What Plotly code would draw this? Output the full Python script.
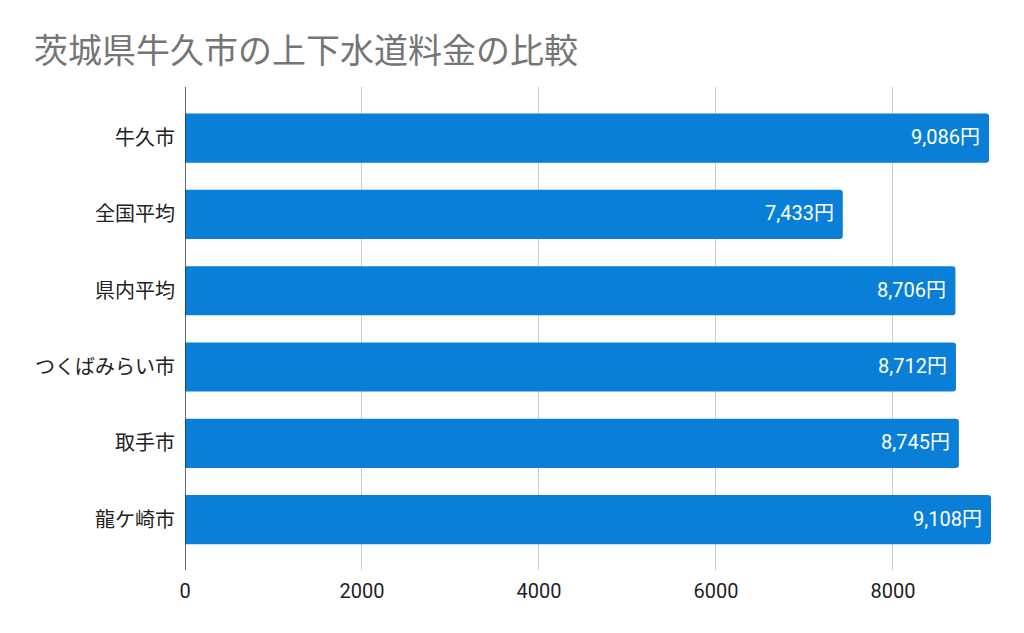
import plotly.graph_objects as go

categories = ["牛久市", "全国平均", "県内平均", "つくばみらい市", "取手市", "龍ケ崎市"]
values = [9086, 7433, 8706, 8712, 8745, 9108]
x_ticks = [0, 2000, 4000, 6000, 8000]
title_text = "茨城県牛久市の上下水道料金の比較"

FONT = "Roboto, 'Noto Sans CJK JP', sans-serif"
BAR = "#0A7FD7"

fig = go.Figure()
fig.add_trace(go.Bar(
    y=categories,
    x=values,
    orientation="h",
    marker=dict(color=BAR, line=dict(width=0), cornerradius=3),
    hoverinfo="skip",
))

for c, v in zip(categories, values):
    fig.add_annotation(
        x=v, y=c, xref="x", yref="y",
        text=f"{v:,}円",
        showarrow=False,
        xanchor="right", yanchor="middle",
        xshift=-7, yshift=1,
        font=dict(family=FONT, size=20, color="#ffffff"),
    )

fig.update_layout(
    width=1016, height=625,
    paper_bgcolor="white", plot_bgcolor="white",
    margin=dict(l=177, r=33, t=79, b=63),
    bargap=0.356,
    showlegend=False,
    font=dict(family=FONT, size=20, color="#222222"),
    title=dict(
        text=title_text,
        x=26 / 1016, xref="container", xanchor="left",
        y=1 - 43 / 625, yref="container", yanchor="middle",
        font=dict(family=FONT, size=34, color="#757575"),
    ),
)

fig.update_xaxes(
    range=[0, 9108],
    tickvals=x_ticks,
    ticktext=[str(t) for t in x_ticks],
    showgrid=True, gridcolor="#CCCCCC", gridwidth=1,
    zeroline=False, showline=False,
    ticks="outside", ticklen=3, tickcolor="rgba(0,0,0,0)",
    tickfont=dict(family=FONT, size=20, color="#222222"),
    fixedrange=True,
)
fig.update_yaxes(
    categoryorder="array", categoryarray=categories,
    range=[len(categories) - 1 + 0.66, -0.67],
    showgrid=False, zeroline=False,
    showline=False,
    ticks="", ticklabelstandoff=9,
    tickfont=dict(family=FONT, size=20, color="#222222"),
    fixedrange=True,
)
# vertical baseline at x=0
fig.add_shape(type="line", xref="x", yref="paper", x0=0, x1=0, y0=0, y1=1,
              line=dict(color="#333333", width=1.5), layer="above")

fig.write_html("out.html", config={"displayModeBar": False})
